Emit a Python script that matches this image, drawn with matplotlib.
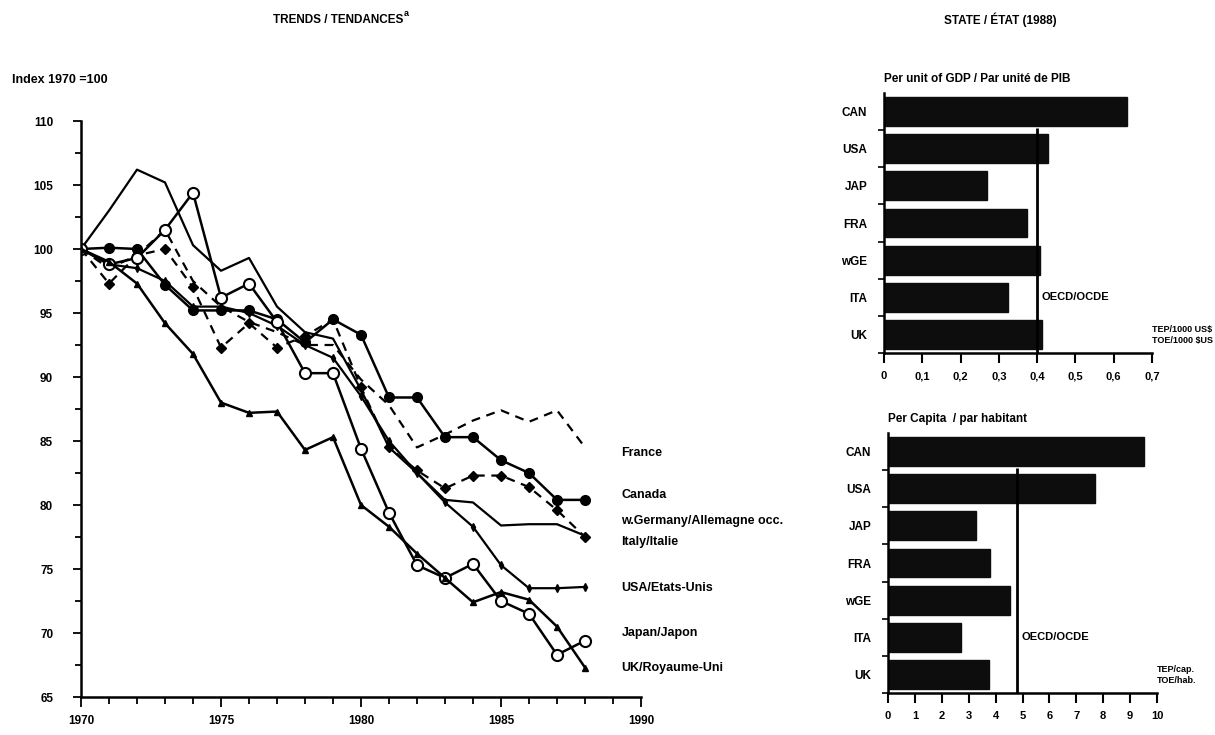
import numpy as np
import matplotlib.pyplot as plt
from matplotlib.ticker import MultipleLocator

plt.rcParams['font.family'] = ['Liberation Sans', 'DejaVu Sans']
plt.rcParams['font.weight'] = 'bold'
plt.rcParams['axes.titleweight'] = 'bold'

years = np.arange(1970, 1989)

# index 1970 = 100
france = [100, 98.5, 99.5, 101.5, 97.5, 95.5, 94.3, 93.5, 92.5, 92.5, 89.8, 87.8, 84.5, 85.5, 86.6, 87.4, 86.5, 87.4, 84.5]
canada = [100, 100.1, 100, 97.2, 95.2, 95.2, 95.2, 94.5, 92.7, 94.5, 93.3, 88.4, 88.4, 85.3, 85.3, 83.5, 82.5, 80.4, 80.4]
wgermany = [100, 103, 106.2, 105.2, 100.3, 98.3, 99.3, 95.5, 93.5, 93.0, 89.0, 84.5, 82.5, 80.4, 80.2, 78.4, 78.5, 78.5, 77.6]
italy = [100, 97.3, 99.5, 100, 97, 92.3, 94.2, 92.3, 93.2, 94.5, 89.2, 84.5, 82.7, 81.3, 82.3, 82.3, 81.4, 79.6, 77.5]
usa = [100, 98.8, 98.5, 97.5, 95.5, 95.5, 95, 94, 92.5, 91.5, 88.5, 85, 82.5, 80.2, 78.3, 75.3, 73.5, 73.5, 73.6]
japan = [100, 98.8, 99.3, 101.5, 104.4, 96.2, 97.3, 94.3, 90.3, 90.3, 84.4, 79.4, 75.3, 74.3, 75.4, 72.5, 71.5, 68.3, 69.4]
uk = [100, 99, 97.3, 94.2, 91.8, 88, 87.2, 87.3, 84.3, 85.3, 80, 78.3, 76.2, 74.3, 72.4, 73.2, 72.6, 70.5, 67.3]

line_labels = ["France", "Canada", "w.Germany/Allemagne occ.", "Italy/Italie",
               "USA/Etats-Unis", "Japan/Japon", "UK/Royaume-Uni"]

# 1988 state
countries = ["CAN", "USA", "JAP", "FRA", "wGE", "ITA", "UK"]
per_gdp = [0.634, 0.428, 0.269, 0.373, 0.407, 0.324, 0.412]
oecd_gdp = 0.40
per_capita = [9.5, 7.7, 3.27, 3.8, 4.55, 2.7, 3.75]
oecd_capita = 4.8

fig = plt.figure(figsize=(12.15, 7.35), dpi=100)

# ---- trends ----
ax = fig.add_axes([81 / 1215, 1 - 697 / 735, 560 / 1215, 576 / 735])
styles = [
    dict(color='k', lw=1.6, ls=(0, (4, 3))),
    dict(color='k', lw=1.8, marker='o', ms=7),
    dict(color='k', lw=1.6),
    dict(color='k', lw=1.6, ls=(0, (4, 3)), marker='D', ms=5.5),
    dict(color='k', lw=1.6, marker='d', ms=4),
    dict(color='k', lw=1.8, marker='o', ms=8, mfc='white', mew=1.5),
    dict(color='k', lw=1.8, marker='^', ms=4),
]
series = [france, canada, wgermany, italy, usa, japan, uk]
for s, st in zip(series, styles):
    ax.plot(years, s, **st)

label_y = [84.1, 80.8, 78.75, 77.1, 73.5, 70.0, 67.3]
for lab, y in zip(line_labels, label_y):
    ax.text(1989.3, y, lab, fontsize=9, va='center', ha='left')

ax.set_xlim(1970, 1990)
ax.set_ylim(65, 110)
ax.spines['top'].set_visible(False)
ax.spines['right'].set_visible(False)
ax.spines['left'].set_linewidth(1.8)
ax.spines['bottom'].set_linewidth(1.8)
ax.xaxis.set_major_locator(MultipleLocator(5))
ax.xaxis.set_minor_locator(MultipleLocator(1))
ax.yaxis.set_major_locator(MultipleLocator(5))
ax.yaxis.set_minor_locator(MultipleLocator(2.5))
ax.tick_params(which='both', direction='out', width=1.3, labelsize=8.5)
ax.tick_params(axis='y', which='major', length=6, pad=14)
ax.tick_params(axis='y', which='minor', length=4)
ax.tick_params(axis='x', which='major', length=7, pad=6)
ax.tick_params(axis='x', which='minor', length=5)

fig.text(338 / 1215, 1 - 20 / 735, "TRENDS / TENDANCES", fontsize=8.5, ha='center', va='center')
fig.text(404 / 1215, 1 - 14 / 735, "a", fontsize=6.5, ha='left', va='center')
fig.text(12 / 1215, 1 - 80 / 735, "Index 1970 =100", fontsize=9, ha='left', va='center')
fig.text(1000 / 1215, 1 - 20 / 735, "STATE / ÉTAT (1988)", fontsize=8.5, ha='center', va='center')


def bar_panel(rect, values, oecd, xmax, step, title, unit, tick_fmt):
    bx = fig.add_axes(rect)
    pos = np.arange(len(countries))[::-1]
    bx.barh(pos, values, height=0.78, color='#0d0d0d', edgecolor='#0d0d0d')
    bx.vlines(oecd, -0.5, 5.55, color='k', lw=2)
    bx.text(oecd + xmax * 0.015, 1, "OECD/OCDE", fontsize=8, va='center', ha='left')
    bx.set_xlim(0, xmax)
    bx.set_ylim(-0.5, 6.5)
    bx.set_yticks(pos)
    bx.set_yticklabels(countries, fontsize=8.5)
    bx.set_yticks(np.arange(-0.5, 6.5, 1), minor=True)
    ticks = np.arange(0, xmax + step / 2, step)
    bx.set_xticks(ticks)
    bx.set_xticklabels([tick_fmt(t) for t in ticks], fontsize=8)
    bx.tick_params(axis='y', which='major', length=0, pad=12)
    bx.tick_params(axis='y', which='minor', length=4, width=1.2)
    bx.tick_params(axis='x', length=7, width=1.5, pad=6)
    bx.spines['top'].set_visible(False)
    bx.spines['right'].set_visible(False)
    bx.spines['left'].set_linewidth(1.8)
    bx.spines['bottom'].set_linewidth(1.8)
    bx.set_title(title, fontsize=8.5, loc='left', pad=8)
    bx.text(1.0, 0.03, unit, transform=bx.transAxes, fontsize=6.5, ha='left', va='bottom',
            linespacing=1.3)
    return bx


b1 = bar_panel([884 / 1215, 1 - 353 / 735, 268 / 1215, 260 / 735], per_gdp, oecd_gdp, 0.7, 0.1,
               "Per unit of GDP / Par unité de PIB", "TEP/1000 US$\nTOE/1000 $US",
               lambda t: "0" if t == 0 else ("%.1f" % t).replace('.', ','))
b1.title.set_position((-0.04, 1))
b2 = bar_panel([888 / 1215, 1 - 693 / 735, 269 / 1215, 260 / 735], per_capita, oecd_capita, 10, 1,
               "Per Capita  / par habitant", "TEP/cap.\nTOE/hab.",
               lambda t: "%d" % t)
b2.title.set_position((0.0, 1))

fig.savefig("out.png", dpi=100)
